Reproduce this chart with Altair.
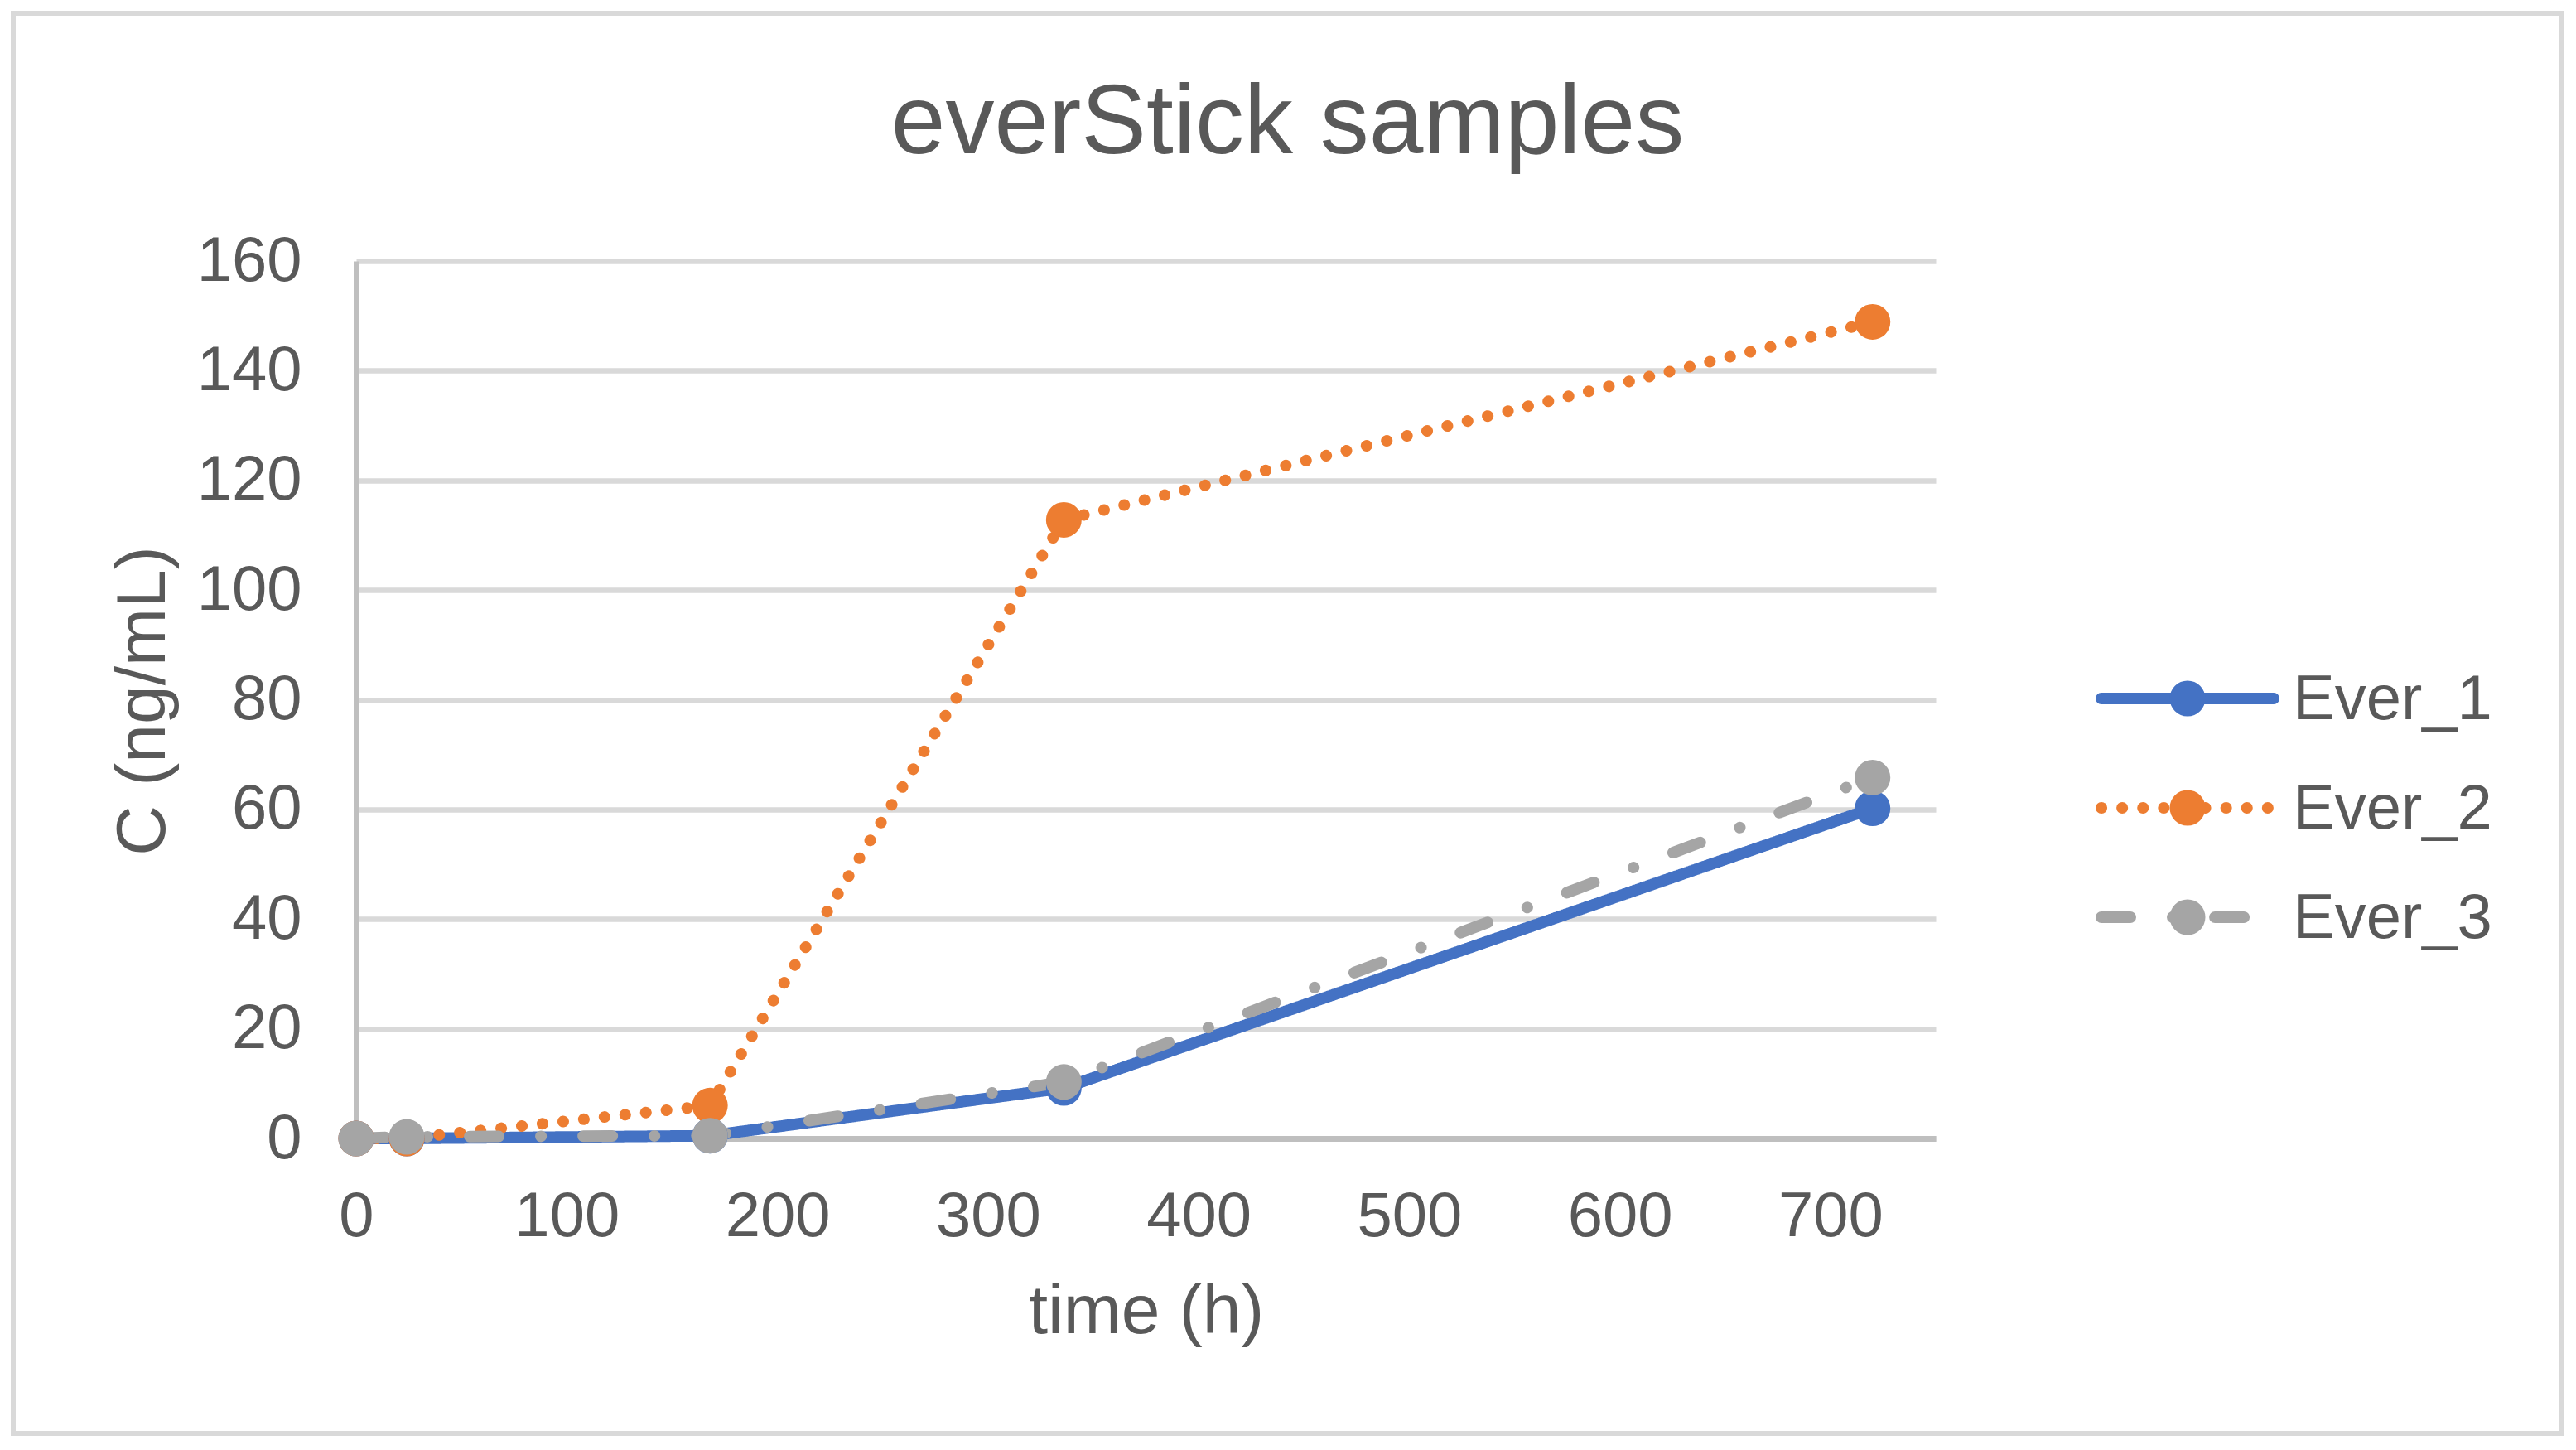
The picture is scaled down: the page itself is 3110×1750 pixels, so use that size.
import altair as alt
import pandas as pd

# ---- data ----
time_h = [0, 24, 168, 336, 720]
ever_1 = [0, 0, 0.5, 9.2, 60.2]
ever_2 = [0, 0, 6.0, 112.8, 148.9]
ever_3 = [0, 0.3, 0.5, 10.3, 65.8]
series_names = ["Ever_1", "Ever_2", "Ever_3"]
x_ticks = [0, 100, 200, 300, 400, 500, 600, 700]
y_ticks = [0, 20, 40, 60, 80, 100, 120, 140, 160]

rows = []
for name, vals in zip(series_names, [ever_1, ever_2, ever_3]):
    for t, v in zip(time_h, vals):
        rows.append({"time": t, "C": v, "series": name})
df = pd.DataFrame(rows)
legend_df = pd.DataFrame({"series": series_names})

FONT = "Liberation Sans"
TXT = "#595959"
colors = ["#4472C4", "#ED7D31", "#A5A5A5"]
dashes = [[1, 0], [0.1, 25], [35, 51, 0.1, 51]]

W, H = 1907, 1059
LW = 14          # line width
MS = 1850        # marker area

color_scale = alt.Scale(domain=series_names, range=colors)
dash_scale = alt.Scale(domain=series_names, range=dashes)
y_scale = alt.Scale(domain=[0, 160], nice=False)
# legend rows (vertical placement of the three legend entries)
legend_rows = alt.Scale(type="point", domain=series_names, range=[528, 792], padding=0)

x_enc = alt.X(
    "time:Q",
    scale=alt.Scale(domain=[0, 750], nice=False),
    axis=alt.Axis(
        title="time (h)",
        values=x_ticks,
        grid=False,
        ticks=False,
        tickSize=0,
        labelFlush=False,
        labelPadding=57,
        titleX=W / 2,
        titleY=234,
        titleBaseline="alphabetic",
        titleAlign="center",
    ),
)
y_enc = alt.Y(
    "C:Q",
    scale=y_scale,
    axis=alt.Axis(
        title="C (ng/mL)",
        values=y_ticks,
        grid=True,
        ticks=False,
        tickSize=0,
        labelFlush=False,
        labelPadding=66,
        titleX=-232,
        titleY=H / 2 + 1,
        titleAngle=270,
        titleBaseline="alphabetic",
        titleAlign="center",
    ),
)

lines = alt.Chart(df).mark_line(strokeWidth=LW, strokeCap="round", strokeJoin="round").encode(
    x=x_enc,
    y=y_enc,
    color=alt.Color("series:N", scale=color_scale, legend=None),
    strokeDash=alt.StrokeDash("series:N", scale=dash_scale, legend=None),
    order=alt.Order("time:Q"),
)

points = alt.Chart(df).mark_point(filled=True, opacity=1, size=MS, shape="circle").encode(
    x="time:Q",
    y=alt.Y("C:Q", scale=y_scale, axis=None),
    color=alt.Color("series:N", scale=color_scale, legend=None),
)

# ---- legend (line sample + marker + label) ----
leg_y = alt.Y("series:N", scale=legend_rows, axis=None)
leg_line = alt.Chart(legend_df).mark_rule(strokeWidth=LW, strokeCap="round").encode(
    x=alt.value(2107),
    x2=alt.value(2315),
    y=leg_y,
    color=alt.Color("series:N", scale=color_scale, legend=None),
    strokeDash=alt.StrokeDash("series:N", scale=dash_scale, legend=None),
)
leg_mark = alt.Chart(legend_df).mark_point(filled=True, opacity=1, size=MS, shape="circle").encode(
    x=alt.value(2211),
    y=leg_y,
    color=alt.Color("series:N", scale=color_scale, legend=None),
)
leg_text = alt.Chart(legend_df).mark_text(
    align="left", baseline="middle", font=FONT, fontSize=76, color=TXT, dy=2
).encode(
    x=alt.value(2338),
    y=leg_y,
    text="series:N",
)

border = alt.Chart(pd.DataFrame({"k": [0]})).mark_rect(
    filled=False, stroke="#D9D9D9", strokeWidth=6
).encode(
    x=alt.value(-414), x2=alt.value(2662), y=alt.value(-299), y2=alt.value(1415)
)

chart = alt.layer(border, lines, points, leg_line, leg_mark, leg_text).resolve_scale(
    y="independent"
).properties(
    width=W,
    height=H,
    title=alt.TitleParams(
        "everStick samples",
        fontSize=118,
        font=FONT,
        color=TXT,
        fontWeight="normal",
        anchor="middle",
        dx=171,
        offset=-290,
        baseline="alphabetic",
    ),
    background="white",
    autosize=alt.AutoSizeParams(type="none"),
    padding={"left": 422, "top": 307, "right": 765, "bottom": 368},
).configure_view(stroke=None).configure_axis(
    labelFont=FONT,
    labelFontSize=76,
    labelColor=TXT,
    titleFont=FONT,
    titleFontSize=84,
    titleColor=TXT,
    titleFontWeight="normal",
    domainColor="#BFBFBF",
    domainWidth=7,
    gridColor="#D9D9D9",
    gridWidth=6.5,
)

chart.save("out.html", embed_options={"renderer": "svg", "actions": False})
